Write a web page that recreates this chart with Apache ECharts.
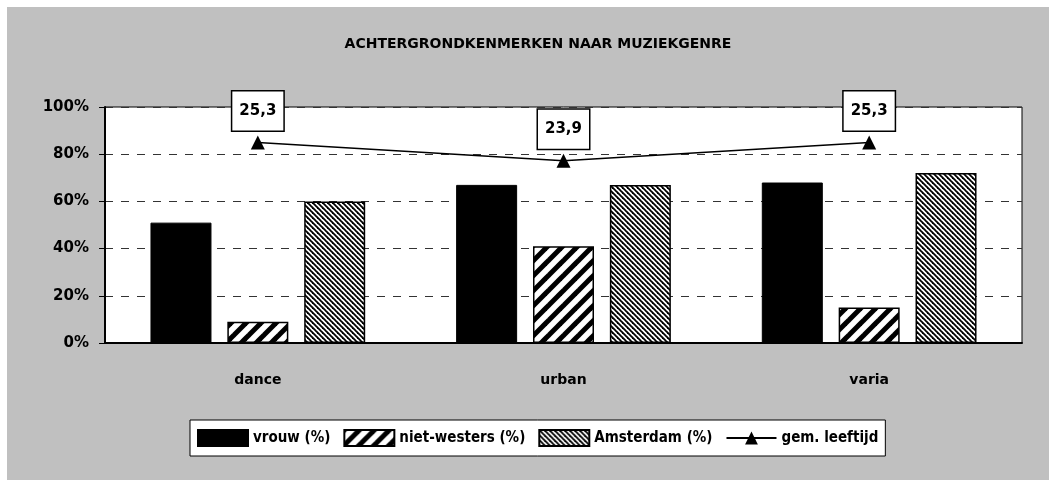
<!DOCTYPE html>
<html>
<head>
<meta charset="utf-8">
<script src="https://cdn.jsdelivr.net/npm/echarts@6/dist/echarts.min.js"></script>
<style>
  html, body { margin: 0; padding: 0; background: #fff; }
  #chart { position: absolute; left: 7px; top: 7px; width: 1042px; height: 473px; }
</style>
</head>
<body>
<div id="chart"></div>
<script>
// data
const genres = ['dance', 'urban', 'varia'];
const vrouw = [51, 67, 68];
const nietWesters = [9, 41, 15];
const amsterdam = [60, 67, 72];
const leeftijd = [25.3, 23.9, 25.3];
const yTicks = [0, 20, 40, 60, 80, 100];

const FONT = 'DejaVu Sans';
const NARROW = "'Liberation Sans Narrow', 'DejaVu Sans Condensed', sans-serif";

// hatch patterns (lines run past the tile so the corners join up)
function stripes(size, width, forward) {
  const c = document.createElement('canvas');
  c.width = size; c.height = size;
  const ctx = c.getContext('2d');
  ctx.fillStyle = '#fff';
  ctx.fillRect(0, 0, size, size);
  ctx.strokeStyle = '#000';
  ctx.lineWidth = width;
  for (let k = -2; k <= 2; k++) {
    ctx.beginPath();
    if (forward) {
      // x + y = size + k*size
      ctx.moveTo(k * size - size, 2 * size);
      ctx.lineTo(k * size + 2 * size, -size);
    } else {
      // y = x + k*size
      ctx.moveTo(-size, -size + k * size);
      ctx.lineTo(2 * size, 2 * size + k * size);
    }
    ctx.stroke();
  }
  return c;
}
const wideHatch = { image: stripes(15, 5, true), repeat: 'repeat' };
const denseHatch = { image: stripes(5, 1.8, false), repeat: 'repeat' };

const chart = echarts.init(document.getElementById('chart'));
const barCommon = {
  type: 'bar',
  barWidth: 61,
  barGap: '26%',
};
const option = {
  backgroundColor: '#c0c0c0',
  animation: false,
  title: {
    text: 'ACHTERGRONDKENMERKEN NAAR MUZIEKGENRE',
    left: 526,
    top: 25,
    textAlign: 'center',
    textStyle: { fontFamily: FONT, fontWeight: 'bold', fontSize: 14, color: '#000' }
  },
  legend: {
    left: 183,
    top: 413,
    backgroundColor: '#fff',
    borderColor: '#000',
    borderWidth: 1,
    padding: [9, 7],
    itemWidth: 50,
    itemHeight: 16,
    itemGap: 13,
    textStyle: { fontFamily: NARROW, fontWeight: 'bold', fontSize: 15, color: '#000' },
    data: [
      { name: 'vrouw (%)', icon: 'rect' },
      { name: 'niet-westers (%)', icon: 'rect' },
      { name: 'Amsterdam (%)', icon: 'rect' },
      { name: 'gem. leeftijd' }
    ]
  },
  grid: {
    left: 98, top: 100, right: 27, bottom: 137,
    show: true, backgroundColor: '#fff', borderColor: '#000', borderWidth: 1
  },
  xAxis: {
    type: 'category',
    data: genres,
    axisLine: { lineStyle: { color: '#000', width: 2 } },
    axisTick: { length: 6, lineStyle: { color: '#000' } },
    axisLabel: { margin: 30, fontFamily: FONT, fontWeight: 'bold', fontSize: 14, color: '#000' }
  },
  yAxis: [
    {
      type: 'value',
      min: yTicks[0],
      max: yTicks[yTicks.length - 1],
      interval: yTicks[1] - yTicks[0],
      axisLine: { show: true, lineStyle: { color: '#000', width: 2 } },
      axisTick: { show: true, length: 6, lineStyle: { color: '#000' } },
      axisLabel: { margin: 16, formatter: '{value}%', fontFamily: FONT, fontWeight: 'bold', fontSize: 15, color: '#000' },
      splitLine: { lineStyle: { color: '#333', width: 1, type: [8, 8] } }
    },
    { type: 'value', min: 10, max: 28, show: false, splitLine: { show: false } }
  ],
  series: [
    Object.assign({ name: 'vrouw (%)', data: vrouw,
      itemStyle: { color: '#000', borderColor: '#000', borderWidth: 1 } }, barCommon),
    Object.assign({ name: 'niet-westers (%)', data: nietWesters,
      itemStyle: { color: wideHatch, borderColor: '#000', borderWidth: 1.5 } }, barCommon),
    Object.assign({ name: 'Amsterdam (%)', data: amsterdam,
      itemStyle: { color: denseHatch, borderColor: '#000', borderWidth: 1.5 } }, barCommon),
    {
      name: 'gem. leeftijd',
      type: 'line',
      yAxisIndex: 1,
      data: leeftijd,
      z: 10,
      symbol: 'triangle',
      symbolSize: 14,
      lineStyle: { color: '#000', width: 1.5 },
      itemStyle: { color: '#000' },
      label: {
        show: true,
        position: 'top',
        distance: 5,
        formatter: p => p.value.toFixed(1).replace('.', ','),
        backgroundColor: '#fff',
        borderColor: '#000',
        borderWidth: 1.5,
        padding: [12, 7],
        fontFamily: FONT,
        fontWeight: 'bold',
        fontSize: 15,
        color: '#000'
      }
    }
  ]
};
chart.setOption(option);
window.addEventListener('resize', function () {
  chart.resize();
});
</script>
</body>
</html>
